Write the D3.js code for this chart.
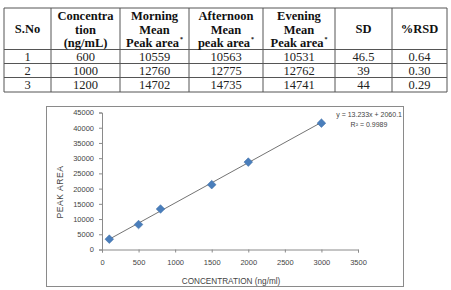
<!DOCTYPE html>
<html><head><meta charset="utf-8">
<script src="https://cdn.jsdelivr.net/npm/d3@7/dist/d3.min.js"></script>
<style>body{margin:0;background:#fff;}svg{display:block;}</style>
</head><body>
<script>
// ---- Table data ----
const headerLines = [["S.No"],["Concentra","tion","(ng/mL)"],["Morning","Mean","Peak area*"],["Afternoon","Mean","peak area*"],["Evening","Mean","Peak area*"],["SD"],["%RSD"]];
const sNo = ["1","2","3"];
const concentration = ["600","1000","1200"];
const morningArea = ["10559","12760","14702"];
const afternoonArea = ["10563","12775","14735"];
const eveningArea = ["10531","12762","14741"];
const sdValues = ["46.5","39","44"];
const rsdValues = ["0.64","0.30","0.29"];
// ---- Chart data ----
const concX = [100,500,800,1500,2000,3000];
const peakY = [3400,8200,13300,21300,28700,41500];
const slope = 13.233, intercept = 2060.1;
const xTicks = [0,500,1000,1500,2000,2500,3000,3500];
const yTicks = [0,5000,10000,15000,20000,25000,30000,35000,40000,45000];
const eqText = "y = 13.233x + 2060.1";
const r2Text = "R² = 0.9989";

const W=451,H=290;
const svg=d3.select("body").append("svg").attr("width",W).attr("height",H);

// ---- Table ----
const colEdges=[4,51,120,189,263,335,392,447];
const rowEdges=[8,49.5,63.5,77.5,92];
const tg=svg.append("g");
const lineColor="#555";
colEdges.forEach(x=>tg.append("line").attr("x1",x).attr("x2",x).attr("y1",rowEdges[0]).attr("y2",rowEdges[rowEdges.length-1]).attr("stroke",lineColor).attr("stroke-width",1));
rowEdges.forEach(y=>tg.append("line").attr("x1",colEdges[0]).attr("x2",colEdges[colEdges.length-1]).attr("y1",y).attr("y2",y).attr("stroke",lineColor).attr("stroke-width",1));
const serif="'Liberation Serif','Times New Roman',serif";
headerLines.forEach((lines,i)=>{
  const cx=(colEdges[i]+colEdges[i+1])/2;
  const n=lines.length;
  const baseYs = n===1?[33]:[20,33.5,47];
  lines.forEach((l,j)=>{
    const t=tg.append("text").attr("x",cx).attr("y",baseYs[j]).attr("text-anchor","middle")
      .attr("font-family",serif).attr("font-weight","bold").attr("font-size",12.5).attr("fill","#111");
    if(l.endsWith("*")){
      t.append("tspan").text(l.slice(0,-1));
      t.append("tspan").attr("font-size",6).attr("dy",-6).attr("dx",1).text("*");
    } else t.text(l);
  });
});
const cols=[sNo,concentration,morningArea,afternoonArea,eveningArea,sdValues,rsdValues];
cols.forEach((col,i)=>{
  const cx=(colEdges[i]+colEdges[i+1])/2;
  col.forEach((v,r)=>{
    tg.append("text").attr("x",cx).attr("y",(rowEdges[r+1]+rowEdges[r+2])/2+4.5).attr("text-anchor","middle")
      .attr("font-family",serif).attr("font-size",12.5).attr("fill","#222").text(v);
  });
});

// ---- Chart ----
svg.append("rect").attr("x",46.5).attr("y",106.5).attr("width",357).attr("height",180).attr("fill","#fff").attr("stroke","#8a8a8a").attr("stroke-width",1);
const x=d3.scaleLinear().domain([0,3500]).range([102,358]);
const y=d3.scaleLinear().domain([0,45000]).range([249.5,112.5]);
const sans="'Liberation Sans',Arial,sans-serif";
const yAxis=svg.append("g").attr("transform","translate(102,0)").call(d3.axisLeft(y).tickValues(yTicks).tickSize(3).tickPadding(5).tickFormat(d3.format("d")));
const xAxis=svg.append("g").attr("transform","translate(0,249.5)").call(d3.axisBottom(x).tickValues(xTicks).tickSize(3).tickPadding(7).tickFormat(d3.format("d")));
[yAxis,xAxis].forEach(a=>{
  a.select(".domain").attr("stroke","#8a8a8a");
  a.selectAll(".tick line").attr("stroke","#8a8a8a");
  a.selectAll(".tick text").attr("font-family",sans).attr("font-size",7.5).attr("fill","#444");
});
// trendline
svg.append("line").attr("x1",x(concX[0])).attr("y1",y(slope*concX[0]+intercept))
  .attr("x2",x(concX[concX.length-1])).attr("y2",y(slope*concX[concX.length-1]+intercept))
  .attr("stroke","#444").attr("stroke-width",0.75);
// markers
const diamond=d3.symbol().type(d3.symbolDiamond2).size(48);
svg.selectAll(".pt").data(concX.map((c,i)=>[c,peakY[i]])).enter().append("path")
  .attr("transform",d=>`translate(${x(d[0])},${y(d[1])})`).attr("d",diamond).attr("fill","#4a7ebb").attr("stroke","#3a6aa5").attr("stroke-width",0.5);
// axis titles
svg.append("text").attr("transform","translate(63,192) rotate(-90)").attr("text-anchor","middle")
  .attr("font-family",sans).attr("font-size",8.5).attr("letter-spacing",0.6).attr("fill","#444").text("PEAK AREA");
svg.append("text").attr("x",231).attr("y",284).attr("text-anchor","middle")
  .attr("font-family",sans).attr("font-size",8.2).attr("fill","#444").text("CONCENTRATION (ng/ml)");
// equation
svg.append("text").attr("x",402).attr("y",117).attr("text-anchor","end").attr("font-family",sans).attr("font-size",7).attr("fill","#444").text(eqText);
svg.append("text").attr("x",369).attr("y",127).attr("text-anchor","middle").attr("font-family",sans).attr("font-size",7).attr("fill","#444").text(r2Text);
</script>
</body></html>
